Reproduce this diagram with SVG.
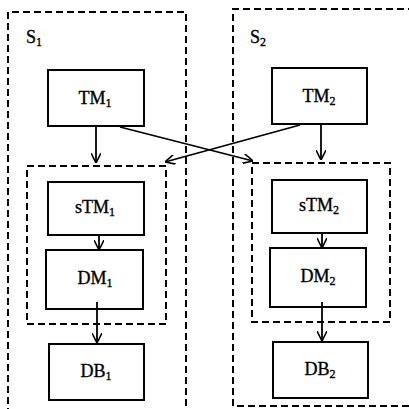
<svg xmlns="http://www.w3.org/2000/svg" width="409" height="409" viewBox="0 0 409 409">
<defs>
<marker id="ah" viewBox="0 0 10 10" refX="10" refY="5" markerWidth="10" markerHeight="10" markerUnits="userSpaceOnUse" orient="auto">
<path d="M0,0 L10,5 L0,10" fill="none" stroke="#000" stroke-width="1.6"/>
</marker>
<style>
.box{fill:#fff;stroke:#000;stroke-width:2}
.dash{fill:none;stroke:#000;stroke-width:2;stroke-dasharray:7,4}
.lbl{font-family:"Liberation Serif","DejaVu Serif",serif;font-size:18px;fill:#000;stroke:#000;stroke-width:0.35;text-anchor:middle}
.ttl{font-family:"Liberation Serif","DejaVu Serif",serif;font-size:18px;fill:#000;stroke:#000;stroke-width:0.35}
.sub{font-size:12px}
.con{stroke:#000;stroke-width:1.8;fill:none;marker-end:url(#ah)}
</style>
</defs>
<rect width="409" height="409" fill="#fff"/>
<g id="S1">
<path class="dash" d="M8,415 L8,12 L186,12 L186,415"/>
<text class="ttl" x="26" y="43">S<tspan class="sub" dy="3">1</tspan></text>
</g>
<g id="S2">
<path class="dash" d="M415,9 L233,9 L233,406 L415,406"/>
<text class="ttl" x="250" y="43">S<tspan class="sub" dy="3">2</tspan></text>
</g>
<g id="G1"><rect class="dash" x="27" y="166" width="139" height="158"/></g>
<g id="G2"><rect class="dash" x="252" y="163" width="138" height="159"/></g>
<g id="TM1"><rect class="box" x="48" y="70" width="96" height="56"/><text class="lbl" x="95" y="104">TM<tspan class="sub" dy="3">1</tspan></text></g>
<g id="TM2"><rect class="box" x="272" y="68" width="95" height="56"/><text class="lbl" x="319" y="102">TM<tspan class="sub" dy="3">2</tspan></text></g>
<g id="sTM1"><rect class="box" x="48" y="182" width="96" height="53"/><text class="lbl" x="95" y="213">sTM<tspan class="sub" dy="3">1</tspan></text></g>
<g id="sTM2"><rect class="box" x="272" y="180" width="95" height="53"/><text class="lbl" x="319" y="211">sTM<tspan class="sub" dy="3">2</tspan></text></g>
<g id="DM1"><rect class="box" x="46" y="250" width="97" height="59"/><text class="lbl" x="95" y="284">DM<tspan class="sub" dy="3">1</tspan></text></g>
<g id="DM2"><rect class="box" x="270" y="248" width="96" height="59"/><text class="lbl" x="318" y="282">DM<tspan class="sub" dy="3">2</tspan></text></g>
<g id="DB1"><rect class="box" x="49" y="344" width="95" height="56"/><text class="lbl" x="96" y="377">DB<tspan class="sub" dy="3">1</tspan></text></g>
<g id="DB2"><rect class="box" x="273" y="342" width="95" height="56"/><text class="lbl" x="320" y="375">DB<tspan class="sub" dy="3">2</tspan></text></g>
<g id="connectors">
<line class="con" x1="96" y1="127" x2="96" y2="163"/>
<line class="con" x1="321" y1="125" x2="321" y2="160"/>
<line class="con" x1="120" y1="127" x2="253" y2="161"/>
<line class="con" x1="300" y1="125" x2="165" y2="162"/>
<line class="con" x1="99" y1="236" x2="99" y2="250"/>
<line class="con" x1="97" y1="302" x2="97" y2="343"/>
<line class="con" x1="322" y1="234" x2="322" y2="248"/>
<line class="con" x1="322" y1="302" x2="322" y2="341"/>
</g>
</svg>
